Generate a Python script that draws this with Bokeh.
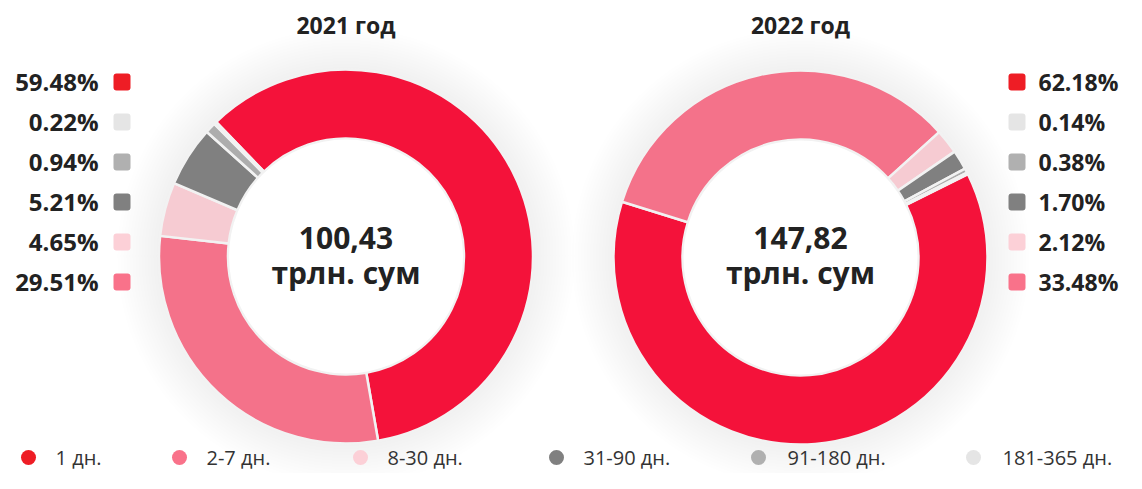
import numpy as np
from bokeh.plotting import figure
from bokeh.models import Range1d, ColumnDataSource
from bokeh.core.properties import value
from bokeh.embed import file_html
from bokeh.resources import INLINE

# ---------------- data ----------------
categories = ["1 дн.", "2-7 дн.", "8-30 дн.", "31-90 дн.", "91-180 дн.", "181-365 дн."]
years = ["2021 год", "2022 год"]
share_2021 = [59.48, 29.51, 4.65, 5.21, 0.94, 0.22]
share_2022 = [62.18, 33.48, 2.12, 1.70, 0.38, 0.14]
totals = ["100,43", "147,82"]
total_unit = "трлн. сум"
label_order = [0, 5, 4, 3, 2, 1]   # order of side labels, top to bottom

# ---------------- styles ----------------
slice_colors = ["#F4123A", "#F4728A", "#F6CBD2", "#808080", "#ADADAD", "#E3E3E3"]
legend_colors = ["#EE1D25", "#F9728A", "#FCD0D7", "#808080", "#B0B0B0", "#E5E5E5"]
BOLD = value("Open Sans")
TXT = "#222222"

# ---------------- layout (pixel space, y measured from the top) ----------------
W, H = 1126, 473
def Y(y_ref):
    return H - y_ref

p = figure(width=W, height=H, x_range=Range1d(0, W), y_range=Range1d(0, H), title=None,
           output_backend="svg", toolbar_location=None, min_border=0,
           x_axis_location=None, y_axis_location=None)
p.grid.visible = False
p.outline_line_color = None
p.background_fill_color = "white"
p.border_fill_color = "white"

centers = [(345.5, Y(256)), (800.0, Y(257))]
start_cw = [-44.0, 63.5]        # where the first slice begins, degrees clockwise from 12 o'clock
R_OUT, R_IN = 187, 118

for (cx, cy), shares, st, title, total in zip(centers, [share_2021, share_2022], start_cw, years, totals):
    s = np.array(shares, dtype=float)
    frac = s / s.sum() * 360.0
    a0 = st + np.concatenate([[0.0], np.cumsum(frac)[:-1]])
    a1 = a0 + frac
    # soft halo
    for k in range(14):
        p.circle(x=[cx], y=[cy], radius=R_OUT + 3 + k * 3, fill_color="black", fill_alpha=0.0035,
                 line_color=None)
    src = ColumnDataSource(dict(
        start=90.0 - a1, end=90.0 - a0, color=slice_colors, cat=categories,
        x=[cx] * len(s), y=[cy] * len(s)))
    p.annular_wedge(x="x", y="y", inner_radius=R_IN, outer_radius=R_OUT,
                    start_angle="start", end_angle="end", start_angle_units="deg", end_angle_units="deg",
                    fill_color="color", line_color="#F2F2F2", line_width=2.5, source=src)
    p.circle(x=[cx], y=[cy], radius=R_IN - 1, fill_color="white", line_color=None)
    # title
    p.text(x=[cx], y=[Y(24.5)], text=[title], text_font=BOLD, text_font_style="bold",
           text_font_size="23px", text_align="center", text_baseline="middle", text_color=TXT)
    # center text
    p.text(x=[cx, cx], y=[Y(237.5), Y(271.5)], text=[total, total_unit], text_font=BOLD,
           text_font_style="bold", text_font_size="30px", text_align="center",
           text_baseline="middle", text_color=TXT)

# side labels
for i, (shares, side) in enumerate(zip([share_2021, share_2022], ["left", "right"])):
    labs = [f"{shares[j]:.2f}%" for j in label_order]
    cols = [legend_colors[j] for j in label_order]
    n = len(labs)
    rows = [Y(81.5 + 40 * k) for k in range(n)]
    if side == "left":
        tx, align, sqx, fs = 98, "right", 121.5, "24px"
    else:
        tx, align, sqx, fs = 1038, "left", 1016.5, "23px"
    p.rect(x=[sqx] * n, y=rows, width=17, height=17, fill_color=cols, line_color=None, border_radius=3)
    p.text(x=[tx] * n, y=[r + 0.5 for r in rows], text=labs, text_font=BOLD, text_font_style="bold",
           text_font_size=fs, text_align=align, text_baseline="middle", text_color=TXT)

# bottom legend
legend_dot_x = [28, 179, 360, 556, 758, 973]
legend_txt_x = [55, 206, 387, 583, 787, 1002]
p.scatter(x=legend_dot_x, y=[Y(457)] * 6, size=15, marker="circle", fill_color=legend_colors, line_color=None)
p.text(x=legend_txt_x, y=[Y(457)] * 6, text=categories, text_font=value("Open Sans"),
       text_font_size="20px", text_align="left", text_baseline="middle", text_color="#333333")

open("out.html", "w").write(file_html(p, INLINE))
